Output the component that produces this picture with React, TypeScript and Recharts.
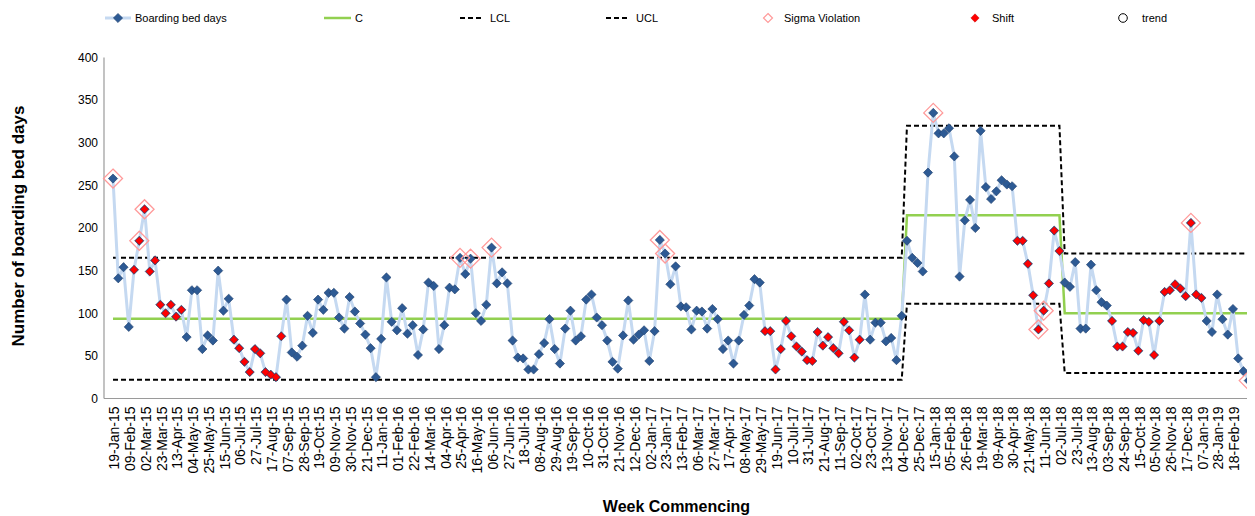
import React from 'react';
import { LineChart, Line, XAxis, YAxis, Legend } from 'recharts';

const MONTHS = ['Jan', 'Feb', 'Mar', 'Apr', 'May', 'Jun', 'Jul', 'Aug', 'Sep', 'Oct', 'Nov', 'Dec'];

// Weekly boarding bed days, week commencing 19-Jan-15 onward
const boardingBedDays: number[] = [
  258, 141, 154, 84, 151, 185, 222, 149, 162, 110,
  100, 110, 96, 104, 72, 127, 127, 58, 74, 68,
  150, 103, 117, 69, 59, 43, 31, 58, 53, 31,
  28, 25, 73, 116, 54, 49, 62, 97, 77, 116,
  104, 124, 124, 95, 82, 119, 102, 88, 75, 59,
  25, 70, 142, 90, 80, 106, 76, 86, 51, 81,
  136, 132, 58, 86, 130, 128, 165, 146, 164, 100,
  91, 110, 177, 135, 148, 135, 68, 48, 47, 34,
  34, 52, 65, 93, 58, 41, 82, 103, 68, 73,
  116, 122, 95, 86, 68, 43, 35, 74, 115, 69,
  75, 80, 44, 79, 186, 170, 134, 155, 108, 107,
  81, 103, 102, 82, 105, 93, 58, 68, 41, 68,
  98, 109, 140, 136, 79, 79, 34, 58, 91, 73,
  61, 55, 45, 44, 78, 62, 72, 59, 53, 90,
  80, 48, 69, 122, 69, 89, 89, 67, 71, 45,
  97, 185, 165, 159, 149, 265, 335, 311, 311, 317,
  284, 143, 209, 233, 200, 314, 248, 234, 243, 256,
  251, 249, 185, 185, 158, 121, 81, 103, 135, 197,
  173, 136, 131, 160, 82, 82, 157, 127, 113, 109,
  91, 61, 61, 78, 77, 56, 92, 90, 51, 91,
  125, 127, 134, 129, 120, 206, 122, 118, 91, 78,
  122, 93, 75, 105, 47, 32, 21, 43,
];

// Category labels: week commencing dates
const weekCommencing: string[] = boardingBedDays.map((_, i) => {
  const d = new Date(Date.UTC(2015, 0, 19 + 7 * i));
  const dd = String(d.getUTCDate()).padStart(2, '0');
  return `${dd}-${MONTHS[d.getUTCMonth()]}-${String(d.getUTCFullYear()).slice(2)}`;
});

// Labelled ticks: every third week, 19-Jan-15 ... 18-Feb-19
const xTickLabels: string[] = weekCommencing.filter((_, i) => i % 3 === 0 && i <= 213);

// Control limit phases
const phaseStartIndex = [0, 151, 181];
const phaseCentre = [93.5, 215, 100];
const phaseLCL = [22, 111, 30];
const phaseUCL = [165, 320, 170];

// Special-cause flags
const shiftRuns: [number, number][] = [[4, 13], [23, 32], [124, 142], [172, 180], [190, 207]];
const sigmaViolationIndex = [0, 5, 6, 66, 68, 72, 104, 105, 156, 176, 177, 205, 216];

const yTicks = [0, 50, 100, 150, 200, 250, 300, 350, 400];

const phaseOf = (i: number) => {
  let p = 0;
  phaseStartIndex.forEach((s, k) => { if (i >= s) p = k; });
  return p;
};
const isShift = (i: number) => shiftRuns.some(([a, b]) => i >= a && i <= b);

const data = boardingBedDays.map((v, i) => {
  const p = phaseOf(i);
  return {
    week: weekCommencing[i],
    value: v,
    c: phaseCentre[p],
    lcl: phaseLCL[p],
    ucl: phaseUCL[p],
    shift: isShift(i) ? v : null,
    sigma: sigmaViolationIndex.includes(i) ? v : null,
  };
});

const FONT = '"Liberation Sans", Arial, sans-serif';
const diamond = (cx: number, cy: number, r: number) =>
  `M${cx},${cy - r} L${cx + r},${cy} L${cx},${cy + r} L${cx - r},${cy} Z`;

const BlueDot = (p: any) => {
  if (p.value == null || p.cy == null || isNaN(p.cy)) return <g key={`b-${p.index}`} />;
  return <path key={`b-${p.index}`} d={diamond(p.cx, p.cy, 4.6)} fill="#2d5a94" stroke="#1d3c6a" strokeWidth={0.6} />;
};
const ShiftDot = (p: any) => {
  if (p.value == null || p.cy == null || isNaN(p.cy)) return <g key={`s-${p.index}`} />;
  return <path key={`s-${p.index}`} d={diamond(p.cx, p.cy, 3.9)} fill="#ff0000" stroke="#b00000" strokeWidth={0.3} />;
};
const SigmaDot = (p: any) => {
  if (p.value == null || p.cy == null || isNaN(p.cy)) return <g key={`g-${p.index}`} />;
  return <path key={`g-${p.index}`} d={diamond(p.cx, p.cy, 9.5)} fill="none" stroke="#ff9a9a" strokeWidth={1.3} />;
};

const XTick = (props: any) => {
  const { x, y, payload } = props;
  return (
    <text
      x={x}
      y={y}
      transform={`rotate(-90, ${x}, ${y})`}
      textAnchor="end"
      dx={-8}
      dy="0.45em"
      fontSize={14}
      fontFamily={FONT}
      fill="#000"
    >
      {payload.value}
    </text>
  );
};

const YTitle = (props: any) => {
  const vb = props.viewBox || {};
  const cx = 10;
  const cy = (vb.y ?? 49.5) + (vb.height ?? 341) / 2 - 2;
  return (
    <text
      x={cx}
      y={cy}
      transform={`rotate(-90, ${cx}, ${cy})`}
      textAnchor="middle"
      dominantBaseline="central"
      fontSize={17}
      fontWeight="bold"
      fontFamily={FONT}
      fill="#000"
    >
      Number of boarding bed days
    </text>
  );
};

const XTitle = (props: any) => {
  const vb = props.viewBox || {};
  const cx = (vb.x ?? 96) + (vb.width ?? 1151) / 2 - 3;
  const cy = 498;
  return (
    <text x={cx} y={cy} textAnchor="middle" dominantBaseline="central" fontSize={16} fontWeight="bold" fontFamily={FONT} fill="#000">
      Week Commencing
    </text>
  );
};

const legendText = { fontSize: 11, fontFamily: FONT, fill: '#000' } as const;

const renderLegend = () => (
  <div style={{ width: 1247, height: 20, position: 'relative' }}>
    <svg width={1247} height={20} style={{ position: 'absolute', left: 0, top: 0 }}>
      <line x1={97} y1={10} x2={123} y2={10} stroke="#c5d9f1" strokeWidth={3} />
      <path d={diamond(110, 10, 4.6)} fill="#2d5a94" stroke="#1d3c6a" strokeWidth={0.6} />
      <text x={127} y={10} dominantBaseline="central" {...legendText}>Boarding bed days</text>

      <line x1={316} y1={10} x2={343} y2={10} stroke="#92d050" strokeWidth={2.5} />
      <text x={347} y={10} dominantBaseline="central" {...legendText}>C</text>

      <line x1={452} y1={10} x2={476} y2={10} stroke="#000" strokeWidth={2} strokeDasharray="5 3" />
      <text x={482} y={10} dominantBaseline="central" {...legendText}>LCL</text>

      <line x1={598} y1={10} x2={622} y2={10} stroke="#000" strokeWidth={2} strokeDasharray="5 3" />
      <text x={628} y={10} dominantBaseline="central" {...legendText}>UCL</text>

      <path d={diamond(760, 10, 4.5)} fill="none" stroke="#ff9a9a" strokeWidth={1.2} />
      <text x={776} y={10} dominantBaseline="central" {...legendText}>Sigma Violation</text>

      <path d={diamond(967, 10, 4.2)} fill="#ff0000" stroke="#b00000" strokeWidth={0.4} />
      <text x={984} y={10} dominantBaseline="central" {...legendText}>Shift</text>

      <circle cx={1115} cy={10} r={4.3} fill="none" stroke="#000" strokeWidth={1} />
      <text x={1134} y={10} dominantBaseline="central" {...legendText}>trend</text>
    </svg>
  </div>
);

export default function App() {
  return (
    <div style={{ width: 1247, height: 508 }}>
      <LineChart width={1247} height={508} data={data} margin={{ top: 29.5, right: 0, bottom: 0, left: 0 }}>
        <Legend verticalAlign="top" align="left" content={renderLegend} wrapperStyle={{ top: 0, left: 0, width: 1247, height: 20 }} />
        <XAxis
          dataKey="week"
          ticks={xTickLabels}
          interval={0}
          tick={<XTick />}
          tickLine={false}
          tickSize={0}
          tickMargin={0}
          axisLine={{ stroke: '#9a9a9a', strokeWidth: 1.2 }}
          padding={{ left: 9, right: 1 }}
          height={117.5}
          label={XTitle}
        />
        <YAxis
          domain={[0, 400]}
          ticks={yTicks}
          interval={0}
          width={96}
          tickLine={false}
          tickSize={0}
          tickMargin={6}
          axisLine={{ stroke: '#9a9a9a', strokeWidth: 1.2 }}
          tick={{ fontSize: 12, fontFamily: FONT, fill: '#000' }}
          label={YTitle}
        />
        <Line dataKey="c" stroke="#92d050" strokeWidth={2.5} dot={false} activeDot={false} isAnimationActive={false} />
        <Line dataKey="lcl" stroke="#000" strokeWidth={2} strokeDasharray="5 3" dot={false} activeDot={false} isAnimationActive={false} />
        <Line dataKey="ucl" stroke="#000" strokeWidth={2} strokeDasharray="5 3" dot={false} activeDot={false} isAnimationActive={false} />
        <Line dataKey="value" stroke="#c5d9f1" strokeWidth={3} dot={BlueDot} activeDot={false} isAnimationActive={false} />
        <Line dataKey="shift" stroke="none" dot={ShiftDot} activeDot={false} isAnimationActive={false} />
        <Line dataKey="sigma" stroke="none" dot={SigmaDot} activeDot={false} isAnimationActive={false} />
      </LineChart>
    </div>
  );
}
